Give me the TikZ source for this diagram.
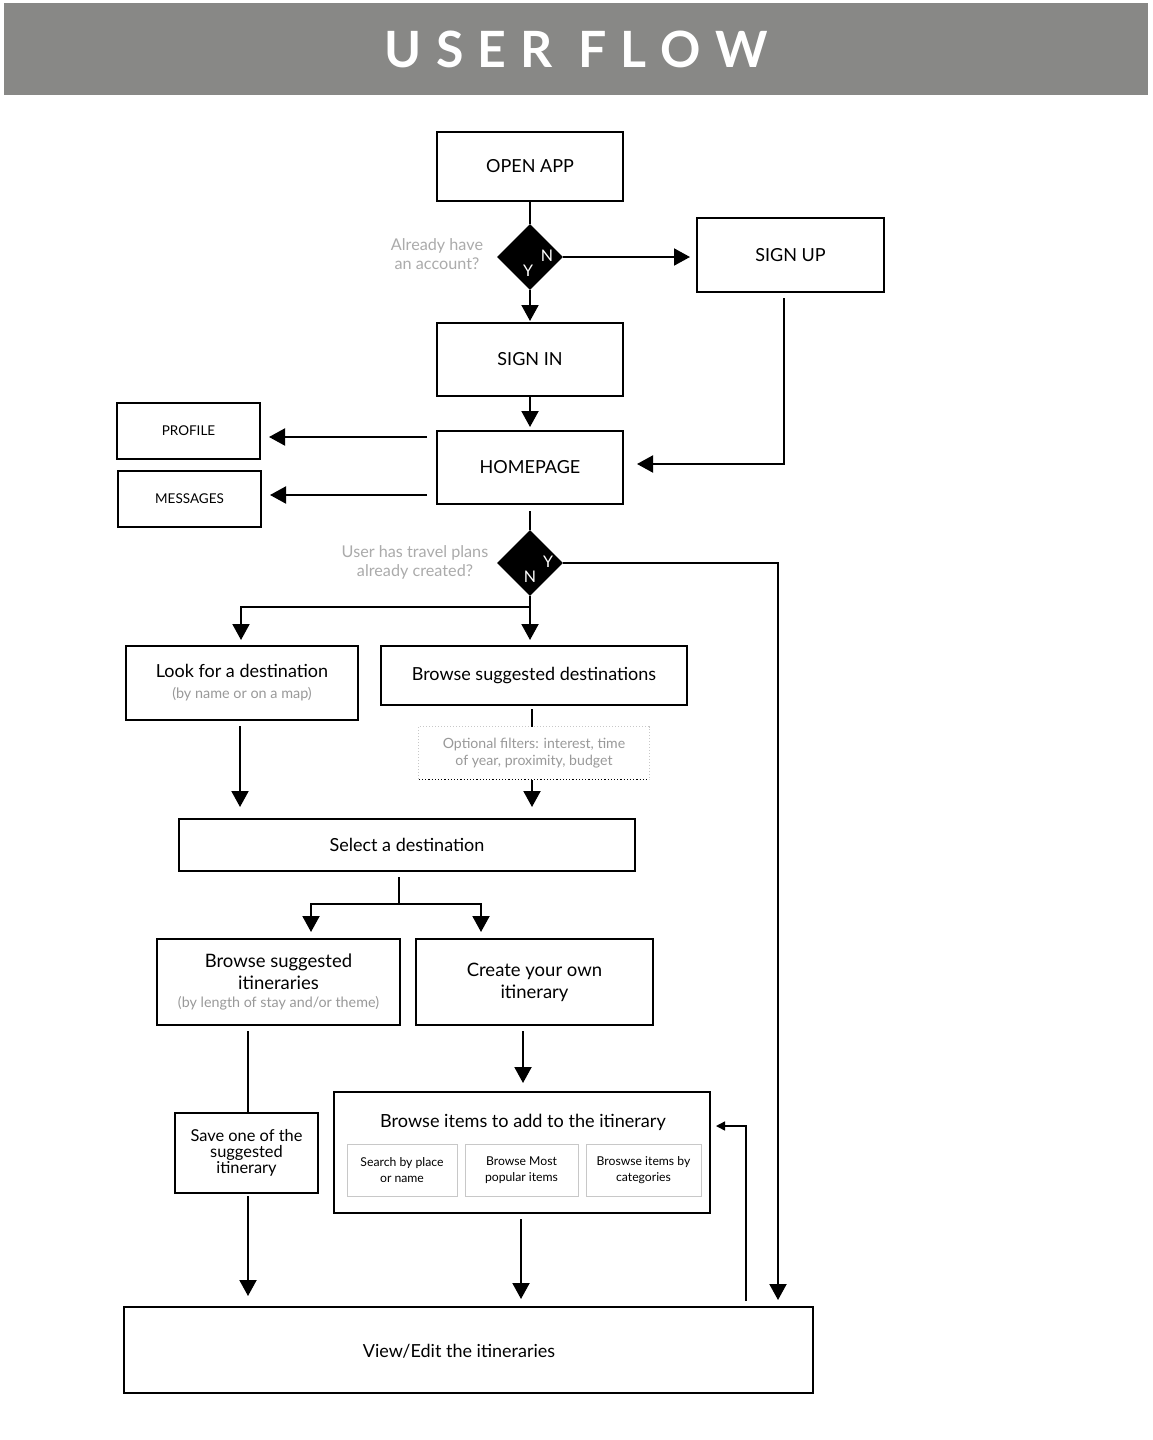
\documentclass[tikz,border=0pt]{standalone}
\usepackage{fontspec}
\setmainfont{Lato}
\usetikzlibrary{arrows.meta,shapes.geometric}
\definecolor{titlegray}{HTML}{888886}
\definecolor{qgray}{HTML}{ABABAB}
\definecolor{notegray}{HTML}{999999}
\definecolor{subgray}{HTML}{C8C8C8}
\begin{document}
\begin{tikzpicture}[x=1pt,y=-1pt,
  box/.style={draw=black, line width=2pt, inner sep=0pt, align=center, font=\fontsize{18}{22}\selectfont},
  dec/.style={diamond, fill=black, minimum width=66pt, minimum height=66pt, inner sep=0pt},
  conn/.style={line width=2pt},
  arr/.style={line width=2pt, -{Triangle[length=16pt,width=17pt]}},
  sarr/.style={line width=1.5pt, -{Triangle[length=9pt,width=9pt]}},
  yn/.style={text=white, font=\fontsize{16}{16}\selectfont, inner sep=0pt},
  q/.style={text=qgray, align=center, font=\fontsize{16.2}{19}\selectfont, inner sep=0pt},
  sub/.style={draw=subgray, line width=1pt, inner sep=0pt, align=center, minimum height=52pt, font=\fontsize{12.2}{16}\selectfont},
  note/.style={text=notegray, font=\fontsize{14.4}{15}\selectfont}
]
\useasboundingbox (0,0) rectangle (1152,1440);
\fill[white] (0,0) rectangle (1152,1440);

% title bar
\node[fill=titlegray, minimum width=1144pt, minimum height=92pt, inner sep=0pt, anchor=north west,
      text=white, font=\fontsize{50}{50}\selectfont\bfseries] (title) at (4,3)
  {\raisebox{-2pt}{U\hspace{14pt}S\hspace{14pt}E\hspace{14pt}R\hspace{14pt}\hspace{12pt}F\hspace{14pt}L\hspace{14pt}O\hspace{14pt}W}};

% nodes
\node[box, minimum width=186pt, minimum height=69pt] (open) at (530,166.5) {OPEN APP};
\node[dec] (d1) at (530,257) {};
\node[yn] (d1n) at (547,256) {N};
\node[yn] (d1y) at (528,271) {Y};
\node[q] (q1) at (437,254) {Already have\\an account?};
\node[box, minimum width=187pt, minimum height=74pt] (signup) at (790.5,255) {SIGN UP};
\node[box, minimum width=186pt, minimum height=73pt] (signin) at (530,359.5) {SIGN IN};
\node[box, minimum width=186pt, minimum height=73pt] (home) at (530,467.5) {HOMEPAGE};
\node[box, minimum width=143pt, minimum height=56pt, font=\fontsize{13.5}{15}\selectfont] (profile) at (188.5,431) {PROFILE};
\node[box, minimum width=143pt, minimum height=56pt, font=\fontsize{13.5}{15}\selectfont] (messages) at (189.5,499) {MESSAGES};
\node[dec] (d2) at (530,563) {};
\node[yn] (d2y) at (548,562) {Y};
\node[yn] (d2n) at (530,577) {N};
\node[q] (q2) at (415,562) {User has travel plans\\already created?};

\node[box, minimum width=232pt, minimum height=74pt] (look) at (242,683)
  {Look for a destination\\[-1pt]{\color{notegray}\fontsize{14.4}{15}\selectfont (by name or on a map)}};
\node[box, minimum width=306pt, minimum height=59pt] (browse) at (534,675.5) {Browse suggested destinations};
\node[minimum width=230pt, minimum height=52pt, inner sep=0pt, align=center, text=notegray,
      font=\fontsize{14.1}{17}\selectfont] (filter) at (534,753)
  {Optional filters: interest, time\\of year, proximity, budget};
\draw[subgray, dotted, line width=1pt] (filter.south west) -- (filter.north west) -- (filter.north east) -- (filter.south east);
\draw[black, dotted, line width=1.2pt] (filter.south west) -- (filter.south east);

\node[box, minimum width=456pt, minimum height=52pt] (select) at (407,845) {Select a destination};
\node[box, minimum width=243pt, minimum height=86pt, font=\fontsize{18.5}{22}\selectfont] (itin) at (278.5,982)
  {Browse suggested\\itineraries\\[-4pt]{\color{notegray}\fontsize{14.3}{15}\selectfont (by length of stay and/or theme)}};
\node[box, minimum width=237pt, minimum height=86pt, font=\fontsize{18.5}{22}\selectfont] (create) at (534.5,982) {Create your own\\itinerary};
\node[box, minimum width=143pt, minimum height=80pt, font=\fontsize{16.4}{16}\selectfont] (save) at (246.5,1153)
  {Save one of the\\suggested\\itinerary};
\node[box, minimum width=376pt, minimum height=121pt] (items) at (522,1152.5) {};
\node[font=\fontsize{18.1}{21}\selectfont, inner sep=0pt] (itemst) at (523,1122) {Browse items to add to the itinerary};
\node[sub, minimum width=110pt] (s1) at (402,1170) {Search by place\\or name};
\node[sub, minimum width=113pt] (s2) at (521.5,1170) {Browse Most\\popular items};
\node[sub, minimum width=115pt] (s3) at (643.5,1170) {Broswse items by\\categories};
\node[box, minimum width=689pt, minimum height=86pt] (view) at (468.5,1350) {};
\node[font=\fontsize{18}{22}\selectfont, inner sep=0pt] (viewt) at (459,1351) {View/Edit the itineraries};

% connectors
\draw[conn] (open.south) -- (d1.north);
\draw[arr, shorten >=6pt] (d1.east) -- (signup.west |- d1.east);
\draw[arr, shorten >=1pt] (d1.south) -- (signin.north);
\draw[arr, shorten >=3pt] (signin.south) -- (home.north);
\draw[arr, shorten <=5pt, shorten >=13pt] ([xshift=-6.5pt]signup.south) |- ([yshift=3.5pt]home.east);
\draw[arr, shorten <=9pt, shorten >=8pt] ([yshift=30.5pt]home.west) -- (profile.east |- 0,437);
\draw[arr, shorten <=9pt, shorten >=8pt] ([yshift=-27.5pt]home.west) -- (messages.east |- 0,495);
\draw[conn, shorten <=6pt] (home.south) -- (d2.north);
\draw[arr, shorten >=6pt] (d2.east) -| ([xshift=-36pt]view.north east);
\draw[conn] (d2.south) -- ++(0,11) coordinate (br);
\draw[arr, shorten >=5pt] (br) -| ([xshift=-1pt]look.north);
\draw[arr, shorten >=5pt] (br) -- (br |- browse.north);
\draw[arr, shorten <=5pt, shorten >=11pt] ([xshift=-2pt]look.south) -- ([xshift=-2pt]look.south |- select.north);
\draw[conn, shorten <=3pt] ([xshift=-2pt]browse.south) -- ([xshift=-2pt]filter.north);
\draw[arr, shorten <=1pt, shorten >=11pt] ([xshift=-2pt]filter.south) -- ([xshift=-2pt]filter.south |- select.north);
\draw[conn, shorten <=5pt] ([xshift=-8pt]select.south) -- ++(0,32) coordinate (br2);
\draw[arr, shorten >=6pt] (br2) -| ([xshift=32.5pt]itin.north);
\draw[arr, shorten >=6pt] (br2) -| ([xshift=-53.5pt]create.north);
\draw[conn, shorten <=5pt] ([xshift=-30.5pt]itin.south) -- ([xshift=-30.5pt]itin.south |- save.north);
\draw[arr, shorten <=2pt, shorten >=10pt] ([xshift=1.5pt]save.south) -- ([xshift=1.5pt]save.south |- view.north);
\draw[arr, shorten <=5pt, shorten >=8pt] ([xshift=-11.5pt]create.south) -- ([xshift=-11.5pt]create.south |- items.north);
\draw[arr, shorten <=5pt, shorten >=7pt] ([xshift=-1pt]items.south) -- ([xshift=-1pt]items.south |- view.north);
\draw[sarr, shorten <=5pt, shorten >=5pt] ([xshift=-68pt]view.north east) |- ([yshift=26.5pt]items.east);
\end{tikzpicture}
\end{document}
